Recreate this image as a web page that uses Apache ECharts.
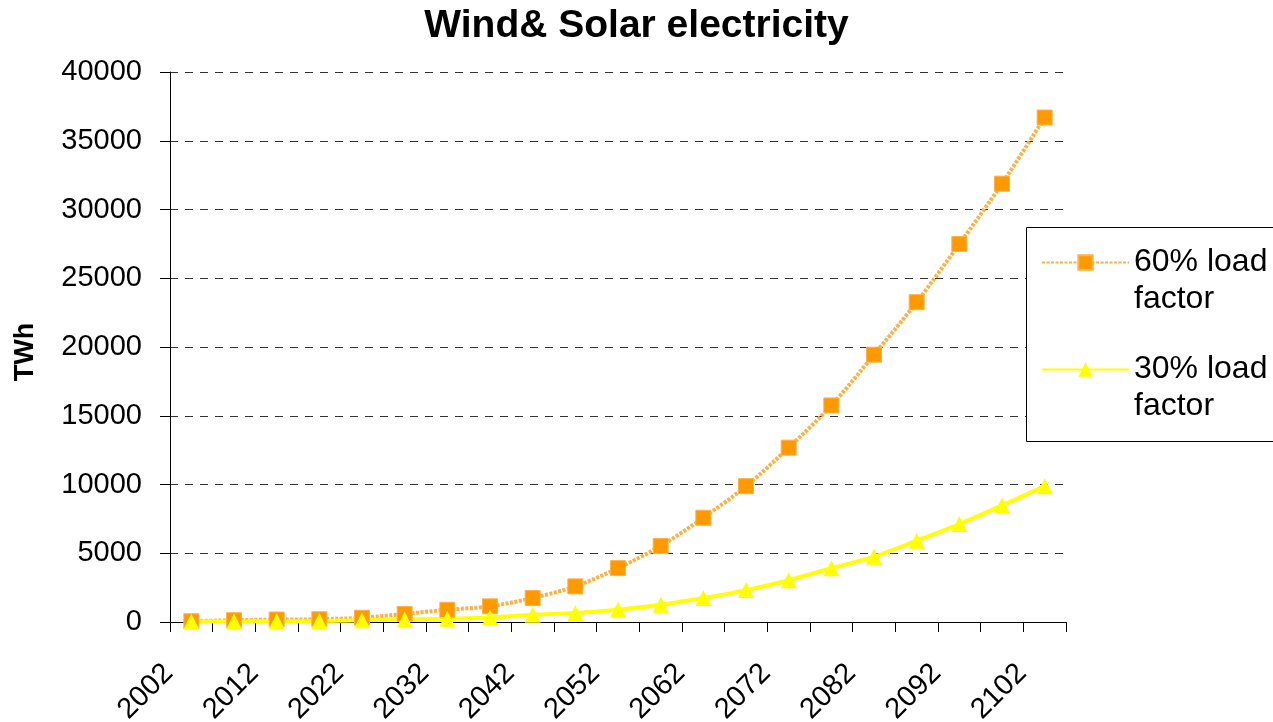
<!DOCTYPE html>
<html>
<head>
<meta charset="utf-8">
<script src="https://cdn.jsdelivr.net/npm/echarts@6/dist/echarts.min.js"></script>
<style>
html,body{margin:0;padding:0;background:#fff;}
#chart{width:1273px;height:722px;}
</style>
</head>
<body>
<div id="chart"></div>
<script>
var years = ['2002','2007','2012','2017','2022','2027','2032','2037','2042','2047','2052','2057','2062','2067','2072','2077','2082','2087','2092','2097','2102'];
var load60 = [60, 130, 180, 200, 310, 590, 890, 1140, 1750, 2590, 3920, 5530, 7580, 9880, 12680, 15750, 19440, 23260, 27490, 31880, 36690];
var load30 = [30, 40, 60, 70, 120, 190, 240, 330, 520, 650, 890, 1250, 1740, 2320, 3040, 3910, 4750, 5910, 7120, 8480, 9880];
var seriesNames = ['60% load\nfactor', '30% load\nfactor'];
var yTicks = {min: 0, max: 40000, interval: 5000};

var FONT = "'Liberation Sans', Arial, Helvetica, sans-serif";
var chart = echarts.init(document.getElementById('chart'), null, {renderer: 'canvas'});
chart.setOption({
  animation: false,
  backgroundColor: '#fff',
  title: {
    text: 'Wind& Solar electricity',
    left: 'center',
    top: 2,
    textStyle: {fontFamily: FONT, fontSize: 39, fontWeight: 'bold', color: '#000'}
  },
  grid: {left: 170, right: 207, top: 72, bottom: 100, containLabel: false, outerBoundsMode: 'none'},
  graphic: [{
    type: 'rect', z: 3,
    shape: {x: 1026.5, y: 227.5, width: 260, height: 214},
    style: {fill: '#fff', stroke: '#000', lineWidth: 1}
  }],
  legend: {
    orient: 'vertical',
    left: 1041,
    top: 207,
    padding: 0,
    itemGap: -4,
    itemWidth: 87,
    itemHeight: 18,
    data: seriesNames,
    formatter: function (name) { return '\n' + name; },
    textStyle: {fontFamily: FONT, fontSize: 32, color: '#000', lineHeight: 37}
  },
  xAxis: {
    type: 'category',
    data: years,
    boundaryGap: true,
    axisLine: {lineStyle: {color: '#000', width: 1}},
    axisTick: {show: true, interval: 0, length: 10, lineStyle: {color: '#000'}},
    axisLabel: {
      interval: 1, rotate: 45, margin: 24,
      formatter: function (v) { return v + '    '; },
      fontFamily: FONT, fontSize: 29, color: '#000'
    },
    splitLine: {show: false}
  },
  yAxis: {
    type: 'value',
    min: yTicks.min, max: yTicks.max, interval: yTicks.interval,
    name: 'TWh',
    nameLocation: 'middle',
    nameRotate: 90,
    nameGap: 131,
    nameTextStyle: {fontFamily: FONT, fontSize: 27, fontWeight: 'bold', color: '#000', padding: [0, 10, 0, 0]},
    axisLine: {show: true, lineStyle: {color: '#000', width: 1}},
    axisTick: {show: true, length: 10, lineStyle: {color: '#000'}},
    axisLabel: {margin: 28, fontFamily: FONT, fontSize: 29, color: '#000', formatter: function (v) { return String(v); }},
    splitLine: {show: true, lineStyle: {color: '#333', width: 1, type: [8, 7]}}
  },
  series: [
    {
      name: seriesNames[0],
      type: 'line',
      data: load60,
      smooth: 0.3,
      symbol: 'rect',
      symbolSize: 15,
      lineStyle: {color: '#FFB040', width: 4, type: [3, 1.5]},
      itemStyle: {color: '#FF9900', borderColor: '#FFB347', borderWidth: 1}
    },
    {
      name: seriesNames[1],
      type: 'line',
      data: load30,
      smooth: 0.3,
      symbol: 'triangle',
      symbolSize: 16,
      lineStyle: {color: '#FFFF00', width: 4},
      itemStyle: {color: '#FFFF00'}
    }
  ]
});
</script>
</body>
</html>
